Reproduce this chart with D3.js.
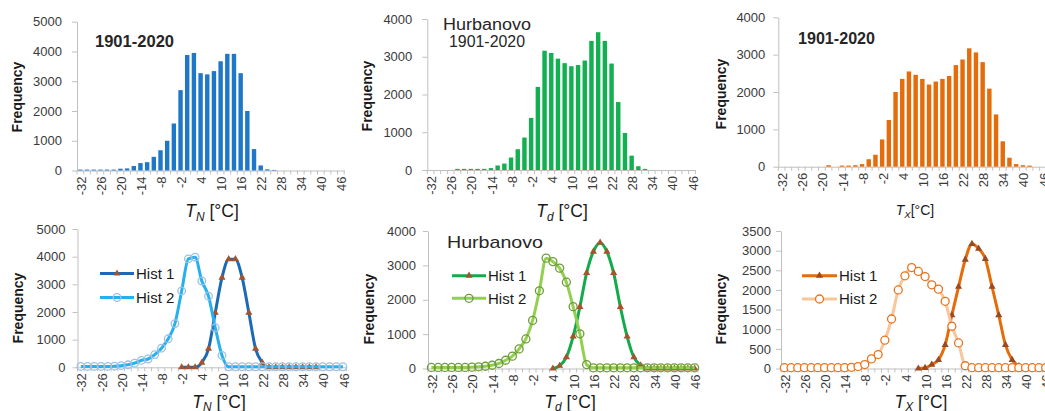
<!DOCTYPE html>
<html><head><meta charset="utf-8">
<script src="https://cdn.jsdelivr.net/npm/d3@7"></script>
<style>
body{margin:0;background:#fff;}
svg{display:block;font-family:"Liberation Sans",Arial,sans-serif;}
.tk text{font-family:"Liberation Sans",Arial,sans-serif;font-size:13px;fill:#3a3a3a;}
</style></head><body>
<svg id="c" width="1045" height="411"></svg>
<script>
// ---- data ----
const categories = [-32,-30,-28,-26,-24,-22,-20,-18,-16,-14,-12,-10,-8,-6,-4,-2,0,2,4,6,8,10,12,14,16,18,20,22,24,26,28,30,32,34,36,38,40,42,44,46];
const tickLabels = ["-32","-26","-20","-14","-8","-2","4","10","16","22","28","34","40","46"];
const yTicks5000 = [0,1000,2000,3000,4000,5000];
const yTicks4000 = [0,1000,2000,3000,4000];
const yTicks3500 = [0,500,1000,1500,2000,2500,3000,3500];

// T_N (minimum temperature)
const tnBars = [30,30,30,30,30,30,60,70,150,250, 280,460,680,1000,1580,2700,3880,3950,3270,3230, 3340,3670,3920,3920,3270,2000,720,170,40,20, 0,0,0,0,0,0,0,0,0,0];
const tnHist1 = [null,null,null,null,null,null,null,null,null,null, null,null,null,null,null,0,0,0,170,670, 1970,3240,3910,3910,3240,1970,670,170,0,0, 0,0,0,0,0,0,null,null,null,null];
const tnHist2 = [30,30,30,30,30,40,60,90,150,250, 300,460,690,1030,1580,2760,3920,3980,3120,2570, 1430,430,20,20,20,20,20,20,20,20, 20,20,20,20,20,20,20,20,20,20];

// T_d (daily mean temperature)
const tdBars = [0,0,0,0,30,30,30,30,30,50, 120,170,330,550,860,1380,2200,3160,3100,2950, 2830,2750,2780,2900,3420,3650,3420,2820,1800,980, 380,100,30,0,0,0,0,0,0,0];
const tdHist1 = [null,null,null,null,null,null,null,null,null,null, null,null,null,null,null,null,null,null,0,80, 330,930,1790,2780,3400,3660,3400,2780,1790,930, 330,90,0,0,0,0,0,0,0,0];
const tdHist2 = [30,30,30,30,30,30,40,50,65,95, 145,240,360,570,860,1400,2260,3210,3110,2920, 2510,1800,1010,115,20,20,20,20,20,20, 20,20,20,20,20,20,20,20,20,20];

// T_X (maximum temperature)
const txBars = [0,0,0,0,0,0,0,40,0,30, 30,40,70,200,320,730,1250,2000,2350,2550, 2460,2350,2200,2280,2350,2430,2720,2870,3170,3060, 2800,2090,1400,680,240,70,40,30,0,0];
const txHist1 = [null,null,null,null,null,null,null,null,null,null, null,null,null,null,null,null,null,null,null,null, 0,15,100,220,600,1360,2080,2770,3170,3050, 2790,2080,1360,600,220,60,0,0,0,0];
const txHist2 = [20,20,20,20,20,20,20,20,20,20, 30,50,100,245,355,720,1260,2000,2360,2570, 2470,2340,2130,2020,1710,1075,650,70,20,20, 20,20,20,20,20,20,20,20,20,20];

const svg = d3.select("#c");

function setupAxes(cfg){
  const g = svg.append("g");
  const n = categories.length;
  const x = d3.scaleBand().domain(categories).range([cfg.x0, cfg.x0 + cfg.step*n]).paddingInner(0.34).paddingOuter(0.17);
  const y = d3.scaleLinear().domain([0, cfg.ymax]).range([cfg.y0, cfg.yTop]);
  const cx = c => x(c) + x.bandwidth()/2;
  // y axis
  const ya = g.append("g").attr("class","tk").attr("transform",`translate(${cfg.x0},0)`)
    .call(d3.axisLeft(y).tickValues(cfg.yTicks).tickFormat(d3.format("d")).tickSize(5).tickSizeOuter(0).tickPadding(cfg.yPad));
  ya.select(".domain").attr("stroke","#c0c0c0");
  ya.selectAll(".tick line").attr("stroke","#c0c0c0");
  // x axis
  const xa = g.append("g").attr("class","tk").attr("transform",`translate(0,${cfg.y0})`)
    .call(d3.axisBottom(x).tickValues(tickLabels.map(Number)).tickFormat((d,i)=>tickLabels[i]).tickSize(0).tickSizeOuter(0));
  xa.select(".domain").attr("stroke","#c0c0c0");
  xa.selectAll(".tick text").attr("transform","rotate(-90)").attr("x",-6).attr("y",1).attr("dy","0.35em").attr("text-anchor","end");
  const bounds = categories.map(c => cx(c) - x.step()/2).concat([cx(categories[n-1]) + x.step()/2]);
  g.append("g").selectAll("line").data(bounds).join("line")
    .attr("x1",d=>d).attr("x2",d=>d).attr("y1",cfg.y0).attr("y2",cfg.y0+4)
    .attr("stroke","#c0c0c0");
  // Frequency
  g.append("text").attr("transform",`translate(${cfg.fx},${cfg.fy}) rotate(-90)`)
    .attr("text-anchor","middle").attr("font-weight","bold").attr("font-size",14)
    .attr("fill","#1a1a1a").text("Frequency");
  // x title
  const t = g.append("text").attr("x",cfg.tx).attr("y",cfg.ty).attr("text-anchor","middle")
    .attr("font-size",cfg.tsize).attr("fill","#1a1a1a");
  t.append("tspan").attr("font-style","italic").text("T");
  t.append("tspan").attr("font-style","italic").attr("font-size",cfg.tsize*0.68).attr("dy",cfg.tsize*0.22).text(cfg.sub);
  t.append("tspan").attr("dy",-cfg.tsize*0.22).text(cfg.space ? " [°C]" : "[°C]");
  return {g,x,y,cx};
}

function barPanel(cfg){
  const {g,x,y} = setupAxes(cfg);
  g.append("g").selectAll("rect").data(cfg.vals).join("rect")
    .attr("x",(d,i)=>x(categories[i])).attr("width",x.bandwidth())
    .attr("y",d=>y(d)).attr("height",d=>cfg.y0 - y(d))
    .attr("fill",cfg.color);
  cfg.titles.forEach(tt=>{
    const e = g.append("text").attr("x",tt.x).attr("y",tt.y).attr("text-anchor",tt.anchor)
      .attr("font-size",tt.size).attr("font-weight",tt.bold?"bold":"normal").attr("fill","#262626").text(tt.text);
    if(tt.len) e.attr("textLength",tt.len).attr("lengthAdjust","spacingAndGlyphs");
  });
}

function linePanel(cfg){
  const {g,x,y,cx} = setupAxes(cfg);
  const line = d3.line().defined(d=>d!=null).x((d,i)=>cx(categories[i])).y(d=>y(d)).curve(d3.curveMonotoneX);
  const tri = d3.symbol().type(d3.symbolTriangle).size(22);
  // Hist 1
  g.append("path").datum(cfg.h1).attr("d",line).attr("fill","none").attr("stroke",cfg.c1).attr("stroke-width",3);
  g.append("g").selectAll("path").data(cfg.h1.map((d,i)=>[d,i]).filter(p=>p[0]!=null)).join("path")
    .attr("transform",p=>`translate(${cx(categories[p[1]])},${y(p[0])})`).attr("d",tri).attr("fill",cfg.tri);
  // Hist 2
  g.append("path").datum(cfg.h2).attr("d",line).attr("fill","none").attr("stroke",cfg.c2).attr("stroke-width",3);
  g.append("g").selectAll("circle").data(cfg.h2.map((d,i)=>[d,i]).filter(p=>p[0]!=null)).join("circle")
    .attr("cx",p=>cx(categories[p[1]])).attr("cy",p=>y(p[0])).attr("r",cfg.r)
    .attr("fill",cfg.cfill).attr("stroke",cfg.cstroke).attr("stroke-width",1.3);
  // legend
  const L = cfg.leg;
  [[L.y1,"Hist 1"],[L.y2,"Hist 2"]].forEach((row,k)=>{
    const yy=row[0];
    g.append("line").attr("x1",L.x0).attr("x2",L.x1).attr("y1",yy).attr("y2",yy)
      .attr("stroke",k===0?cfg.c1:cfg.c2).attr("stroke-width",3);
    const mx=(L.x0+L.x1)/2;
    if(k===0) g.append("path").attr("transform",`translate(${mx},${yy})`).attr("d",tri).attr("fill",cfg.tri);
    else g.append("circle").attr("cx",mx).attr("cy",yy).attr("r",cfg.r).attr("fill",cfg.cfill==="none"?"none":"#fff").attr("stroke",cfg.cstroke).attr("stroke-width",1.3);
    g.append("text").attr("x",L.x1+2).attr("y",yy).attr("dy","0.36em").attr("font-size",15).attr("fill","#1a1a1a").text(row[1]);
  });
  if(cfg.titles) cfg.titles.forEach(tt=>{
    const e = g.append("text").attr("x",tt.x).attr("y",tt.y).attr("text-anchor",tt.anchor)
      .attr("font-size",tt.size).attr("fill","#262626").text(tt.text);
    if(tt.len) e.attr("textLength",tt.len).attr("lengthAdjust","spacingAndGlyphs");
  });
}

// ---- top row ----
barPanel({x0:77,step:6.68,y0:170.5,yTop:21.7,ymax:5000,yTicks:yTicks5000,yPad:10,
  fx:22,fy:97,tx:212,ty:217,tsize:17.5,sub:"N",space:true,vals:tnBars,color:"#1f77c8",
  titles:[{x:95,y:46.5,anchor:"start",size:16,bold:true,text:"1901-2020",len:79}]});
barPanel({x0:427.3,step:6.7,y0:170,yTop:19,ymax:4000,yTicks:yTicks4000,yPad:10,
  fx:372,fy:96,tx:562,ty:217,tsize:17.5,sub:"d",space:true,vals:tdBars,color:"#12b050",
  titles:[{x:487,y:30,anchor:"middle",size:16,text:"Hurbanovo",len:88},
          {x:487,y:47,anchor:"middle",size:16,text:"1901-2020",len:76}]});
barPanel({x0:778.3,step:6.7,y0:166.7,yTop:17.3,ymax:4000,yTicks:yTicks4000,yPad:8,
  fx:726,fy:94,tx:915,ty:215,tsize:14,sub:"X",space:false,vals:txBars,color:"#e46c0a",
  titles:[{x:798,y:44,anchor:"start",size:16,bold:true,text:"1901-2020",len:77}]});

// ---- bottom row ----
linePanel({x0:77.5,step:6.72,y0:367.3,yTop:229,ymax:5000,yTicks:yTicks5000,yPad:7,
  fx:23,fy:308,tx:219,ty:407.5,tsize:17.5,sub:"N",space:true,
  h1:tnHist1,h2:tnHist2,c1:"#1c6ab5",c2:"#27b0ee",tri:"#a5532c",r:3.8,cfill:"none",cstroke:"#9cc0e4",
  leg:{x0:100,x1:134,y1:273.5,y2:297.5}});
linePanel({x0:428,step:6.75,y0:368.5,yTop:231,ymax:4000,yTicks:yTicks4000,yPad:7,
  fx:373.5,fy:309,tx:570,ty:407.5,tsize:17.5,sub:"d",space:true,
  h1:tdHist1,h2:tdHist2,c1:"#12ab4c",c2:"#92d050",tri:"#a5532c",r:4,cfill:"none",cstroke:"#6f9b3a",
  leg:{x0:452,x1:486,y1:275.7,y2:298.3},
  titles:[{x:447,y:248,anchor:"start",size:17,text:"Hurbanovo",len:96}]});
linePanel({x0:781,step:6.7,y0:368.5,yTop:231,ymax:3500,yTicks:yTicks3500,yPad:5,
  fx:726,fy:309,tx:921,ty:407.5,tsize:17.5,sub:"X",space:true,
  h1:txHist1,h2:txHist2,c1:"#e46c0a",c2:"#fbc59a",tri:"#9a4a22",r:4,cfill:"#fff",cstroke:"#e8741c",
  leg:{x0:802,x1:837,y1:275.7,y2:299}});
</script>
</body></html>
